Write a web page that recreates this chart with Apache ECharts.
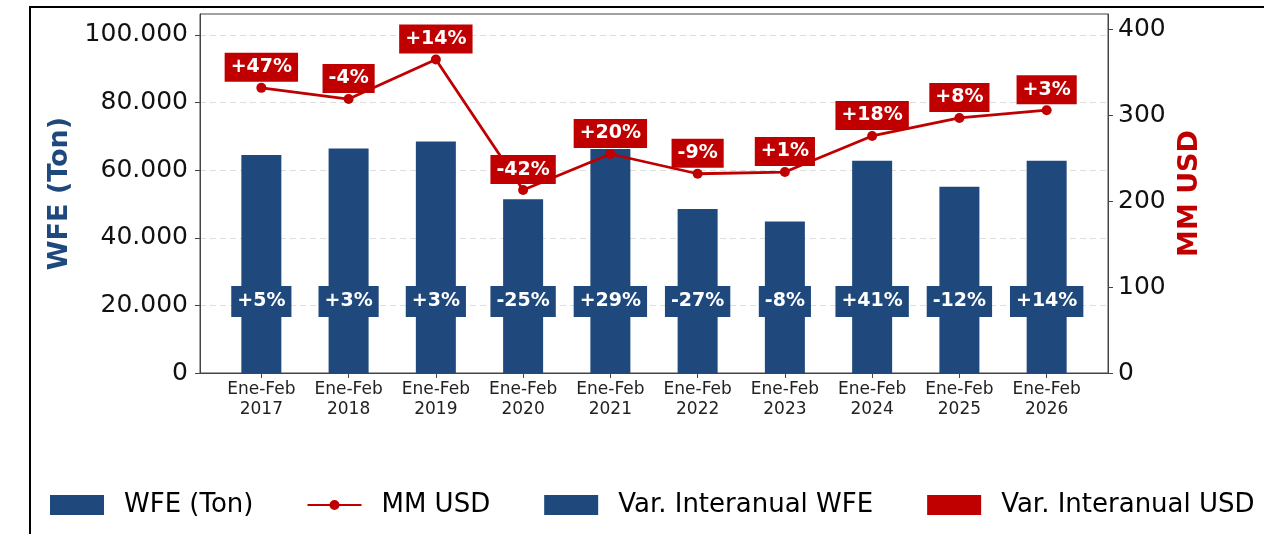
<!DOCTYPE html>
<html>
<head>
<meta charset="utf-8">
<script src="https://cdn.jsdelivr.net/npm/echarts@6/dist/echarts.min.js"></script>
<style>
  html, body { margin: 0; padding: 0; background: #fff; overflow: hidden; }
  #chart { width: 1264px; height: 534px; }
  .frame {
    position: absolute; left: 29px; top: 6px; width: 1300px; height: 600px;
    border-top: 2px solid #000; border-left: 2px solid #000;
    pointer-events: none;
  }
</style>
</head>
<body>
<div id="chart"></div>
<div class="frame"></div>
<script>
// ---------------- datos ----------------
const categories = [
  'Ene-Feb\n2017', 'Ene-Feb\n2018', 'Ene-Feb\n2019', 'Ene-Feb\n2020', 'Ene-Feb\n2021',
  'Ene-Feb\n2022', 'Ene-Feb\n2023', 'Ene-Feb\n2024', 'Ene-Feb\n2025', 'Ene-Feb\n2026'
];
const wfeTon = [64500, 66400, 68500, 51400, 66300, 48500, 44800, 62800, 55100, 62800];
const mmUsd = [332, 319, 365, 213, 255, 232, 234, 276, 297, 306];
const varWfe = ['+5%', '+3%', '+3%', '-25%', '+29%', '-27%', '-8%', '+41%', '-12%', '+14%'];
const varUsd = ['+47%', '-4%', '+14%', '-42%', '+20%', '-9%', '+1%', '+18%', '+8%', '+3%'];

const BLUE = '#1F497D';
const RED = '#C00000';
const FONT = 'DejaVu Sans';

const idx = categories.map((_, i) => i);
const fmtMiles = v => String(v).replace(/\B(?=(\d{3})+(?!\d))/g, '.');

// icono de leyenda: línea con punto
const lineDotIcon = 'path://M0,4h54v2h-54z M27,0a5,5 0 1,1 0,10a5,5 0 1,1 0,-10z';

const chart = echarts.init(document.getElementById('chart'));
chart.setOption({
  animation: false,
  textStyle: { fontFamily: FONT },
  grid: {
    left: 200, right: 156, top: 14, bottom: 161,
    show: true, borderColor: '#444', borderWidth: 1
  },
  legend: {
    left: 50, top: 492, padding: 0,
    itemWidth: 54, itemHeight: 20, itemGap: 54,
    symbolKeepAspect: true,
    textStyle: { fontFamily: FONT, fontSize: 26, color: '#000', padding: [0, 0, 0, 15] },
    data: [
      { name: 'WFE (Ton)', icon: 'rect' },
      { name: 'MM USD', icon: lineDotIcon },
      { name: 'Var. Interanual WFE', icon: 'rect' },
      { name: 'Var. Interanual USD', icon: 'rect' }
    ]
  },
  xAxis: {
    type: 'value',
    min: -0.703, max: 9.703,
    axisLine: { show: true, onZero: false, lineStyle: { color: '#444' } },
    axisTick: { show: true, customValues: idx, length: 5, lineStyle: { color: '#444' } },
    axisLabel: {
      customValues: idx,
      formatter: v => categories[v],
      fontFamily: FONT, fontSize: 17, lineHeight: 20, color: '#222', margin: 7
    },
    splitLine: { show: false }
  },
  yAxis: [
    {
      type: 'value', min: 0, max: 106200, interval: 20000,
      name: 'WFE (Ton)', nameLocation: 'middle', nameGap: 124,
      nameTextStyle: { fontFamily: FONT, fontSize: 27, fontWeight: 'bold', color: BLUE },
      axisLine: { show: true, onZero: false, lineStyle: { color: '#444' } },
      axisTick: { show: true, length: 5, lineStyle: { color: '#444' } },
      axisLabel: {
        showMaxLabel: false, fontFamily: FONT, fontSize: 25, color: '#111', margin: 12,
        formatter: fmtMiles
      },
      splitLine: {
        show: true, showMinLine: false, showMaxLine: false,
        lineStyle: { color: '#ddd', type: [6, 4], width: 1 }
      }
    },
    {
      type: 'value', min: 0, max: 418, interval: 100,
      name: 'MM USD', nameLocation: 'middle', nameGap: 58,
      nameTextStyle: { fontFamily: FONT, fontSize: 27, fontWeight: 'bold', color: RED },
      axisLine: { show: true, onZero: false, lineStyle: { color: '#444' } },
      axisTick: { show: true, length: 5, lineStyle: { color: '#444' } },
      axisLabel: { showMaxLabel: false, fontFamily: FONT, fontSize: 25, color: '#111', margin: 10 },
      splitLine: { show: false }
    }
  ],
  series: [
    {
      name: 'WFE (Ton)',
      type: 'bar',
      yAxisIndex: 0,
      barWidth: 40,
      itemStyle: { color: BLUE },
      data: wfeTon.map((v, i) => [i, v]),
      label: {
        show: true,
        position: 'insideBottom',
        distance: 56,
        formatter: p => varWfe[p.dataIndex],
        backgroundColor: BLUE,
        color: '#fff',
        fontFamily: FONT, fontSize: 19, fontWeight: 'bold',
        lineHeight: 21, padding: [5, 6]
      },
      z: 2
    },
    {
      name: 'MM USD',
      type: 'line',
      yAxisIndex: 1,
      symbol: 'circle',
      symbolSize: 10,
      lineStyle: { color: RED, width: 2.8 },
      itemStyle: { color: RED },
      data: mmUsd.map((v, i) => [i, v]),
      label: {
        show: true,
        position: 'top',
        distance: 1,
        formatter: p => varUsd[p.dataIndex],
        backgroundColor: RED,
        color: '#fff',
        fontFamily: FONT, fontSize: 19, fontWeight: 'bold',
        lineHeight: 21, padding: [4, 6]
      },
      z: 5
    },
    { name: 'Var. Interanual WFE', type: 'scatter', data: [], itemStyle: { color: BLUE, opacity: 1 } },
    { name: 'Var. Interanual USD', type: 'scatter', data: [], itemStyle: { color: RED, opacity: 1 } }
  ]
});
</script>
</body>
</html>
